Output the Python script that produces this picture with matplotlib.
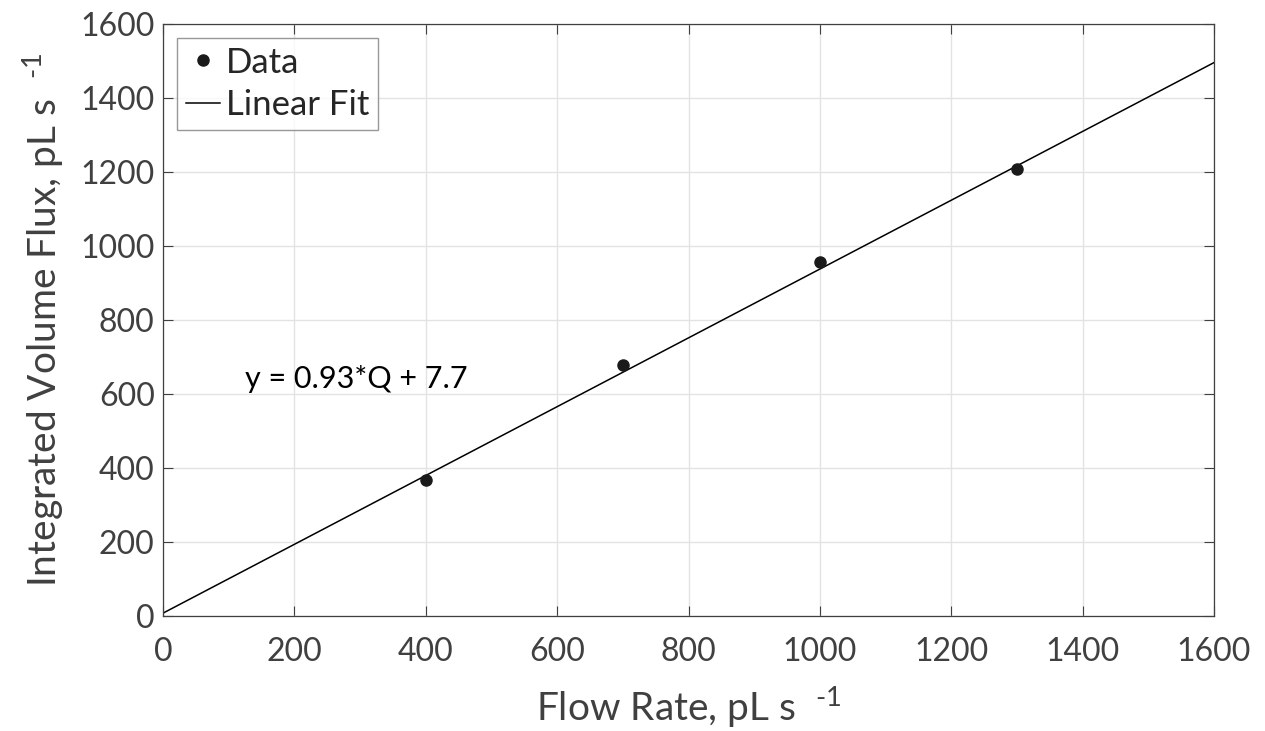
import numpy as np
import matplotlib
matplotlib.use('Agg')
import matplotlib.pyplot as plt

plt.rcParams['font.family'] = ['Lato', 'DejaVu Sans']
plt.rcParams['mathtext.default'] = 'regular'

# data
flow = [400, 700, 1000, 1300]
flux = [368, 678, 957, 1208]
slope = 0.93
intercept = 7.7
fit_x = [0, 1600]
ticks = [0, 200, 400, 600, 800, 1000, 1200, 1400, 1600]

fig = plt.figure(figsize=(12.65, 7.31), dpi=100)
ax = fig.add_axes([163/1265, 1-616/731, (1214-163)/1265, (616-24)/731])

fx = np.array(fit_x)
ax.plot(fx, slope*fx + intercept, color='black', lw=1.1, label='Linear Fit', zorder=2)
ax.plot(flow, flux, 'o', color='#1a1a1a', ms=8, label='Data', zorder=3)

ax.set_xlim(0, 1600)
ax.set_ylim(0, 1600)
ax.set_xticks(ticks)
ax.set_yticks(ticks)
ax.grid(True, color='#e3e3e3', lw=1)
ax.set_axisbelow(True)
ax.tick_params(direction='in', top=True, right=True, length=7, width=0.8,
               color='#404040', labelsize=23, labelcolor='#404040', pad=6)
ax.tick_params(axis='x', pad=15)
for s in ax.spines.values():
    s.set_color('#404040')
    s.set_linewidth(0.9)

ax.set_xlabel('Flow Rate, pL s  $^{\u20101}$', fontsize=28, color='#404040', labelpad=13)
ax.set_ylabel('Integrated Volume Flux, pL s  $^{\u20101}$', fontsize=28, color='#404040', labelpad=10)

ax.text(125, 640, 'y = 0.93*Q + 7.7', fontsize=22, color='black', va='center')

h, l = ax.get_legend_handles_labels()
leg = ax.legend(h[::-1], l[::-1], loc='upper left', fontsize=25, frameon=True, fancybox=False,
                edgecolor='#7f7f7f', handlelength=1.0, handletextpad=0.15,
                borderpad=0.25, labelspacing=0.3, borderaxespad=0.4)
leg.get_frame().set_linewidth(1.0)
for t in leg.get_texts():
    t.set_color('#262626')

fig.savefig('out.png', dpi=100)
